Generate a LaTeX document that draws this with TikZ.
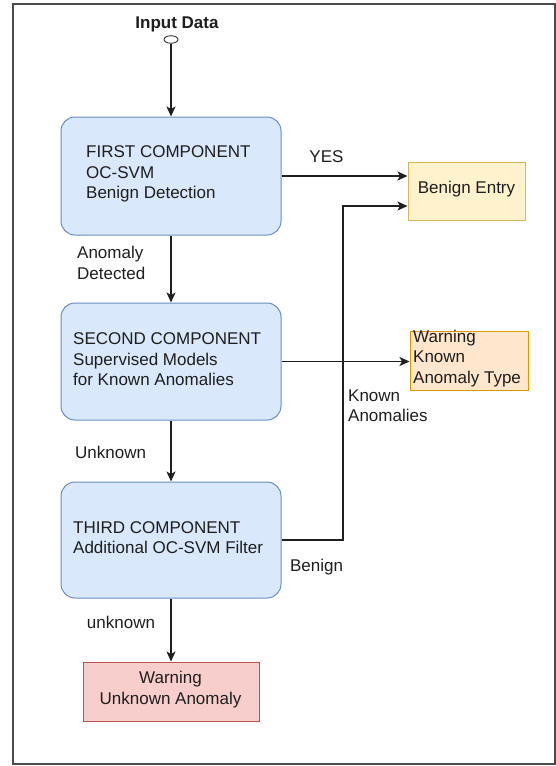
\documentclass[tikz,border=0pt]{standalone}
\usepackage{fontspec}
\setmainfont{Liberation Sans}
\usetikzlibrary{arrows.meta,shapes.geometric}
\definecolor{bluefill}{HTML}{DAE8FC}
\definecolor{blueline}{HTML}{6C8EBF}
\definecolor{yelfill}{HTML}{FFF2CC}
\definecolor{yelline}{HTML}{D6B656}
\definecolor{orafill}{HTML}{FFE6CC}
\definecolor{oraline}{HTML}{D79B00}
\definecolor{redfill}{HTML}{F8CECC}
\definecolor{redline}{HTML}{B85450}
\definecolor{textcol}{HTML}{1E1E1E}
\definecolor{framecol}{HTML}{4A4A4A}
\begin{document}
\begin{tikzpicture}[x=1pt,y=-1pt,
  compbox/.style={draw=blueline, fill=bluefill, rounded corners=14pt, minimum width=220pt, line width=1pt, inner sep=0pt},
  sqbox/.style={line width=1pt, inner sep=0pt},
  txt/.style={font=\fontsize{17}{20.4}\selectfont, text=textcol, align=left, inner sep=0pt},
  conn/.style={line width=1.3pt, draw=black!88, -{Stealth[length=10pt,width=9pt,inset=2.5pt]}},
  plain/.style={line width=1.3pt, draw=black!88}]
\useasboundingbox (0,0) rectangle (556,766);
\draw[framecol, line width=1.6pt] (13,4) rectangle (555,764);

% input
\node[txt, font=\fontsize{17}{20.4}\selectfont\bfseries, anchor=base] (title) at (177,28.5) {Input Data};
\node[ellipse, draw=black!80, fill=white, line width=0.9pt, minimum width=14pt, minimum height=7.5pt, inner sep=0pt] (inp) at (171,39.5) {};

% components
\node[compbox, minimum height=118pt] (c1) at (171,176) {};
\node[txt, anchor=west] (c1t) at (86,174) {FIRST COMPONENT\\OC-SVM\\Benign Detection};
\node[compbox, minimum height=117pt] (c2) at (171,361.5) {};
\node[txt, anchor=west] (c2t) at (73,359.5) {SECOND COMPONENT\\Supervised Models\\for Known Anomalies};
\node[compbox, minimum height=116pt] (c3) at (171,540) {};
\node[txt, anchor=west] (c3t) at (73,537.5) {THIRD COMPONENT\\Additional OC-SVM Filter};

% outputs
\node[sqbox, draw=yelline, fill=yelfill, minimum width=117pt, minimum height=58pt] (ben) at (466.5,191) {};
\node[txt, anchor=center] (bent) at (466.5,189.5) {Benign Entry};
\node[sqbox, draw=oraline, fill=orafill, minimum width=118pt, minimum height=59pt] (wk) at (469,360.5) {};
\node[txt, anchor=west] (wkt) at (413,358.5) {Warning\\Known\\Anomaly Type};
\node[sqbox, draw=redline, fill=redfill, minimum width=176pt, minimum height=59pt] (wu) at (171,691.5) {};
\node[txt, align=center, anchor=center] (wut) at (170.5,689.5) {Warning\\Unknown Anomaly};

% connectors
\coordinate (jx) at (343,0);
\draw[conn] (inp.south) -- (c1.north);
\draw[conn] (c1.south) -- (c2.north);
\draw[conn] (c2.south) -- (c3.north);
\draw[conn] (c3.south) -- (wu.north);
\draw[conn] (c1.east) -- (c1.east -| ben.west);
\draw[conn] (c2.east) -- (c2.east -| wk.west);
\draw[conn] (c3.east) -- (c3.east -| jx) |- ([yshift=-15pt]ben.west);

% labels
\node[txt, anchor=center] (lyes) at (326.5,157) {YES};
\node[txt, anchor=west] (lad) at (77,263) {Anomaly\\Detected};
\node[txt, anchor=west] (lunk) at (75,452) {Unknown};
\node[txt, anchor=center] (lunk2) at (121,622) {unknown};
\node[txt, anchor=center] (lben) at (316.5,567.5) {Benign};
\node[txt, anchor=west] (lka) at (348,406) {Known\\Anomalies};
\end{tikzpicture}
\end{document}
